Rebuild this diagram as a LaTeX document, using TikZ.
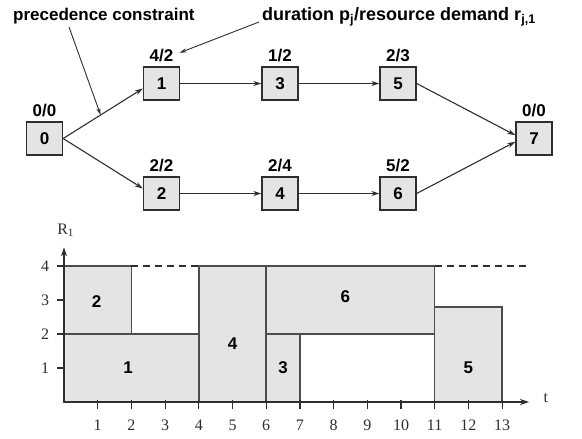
\documentclass[tikz,border=0pt]{standalone}
\usepackage{fontspec}
\setmainfont{Liberation Serif}
\setsansfont{Liberation Sans}
\usetikzlibrary{arrows.meta,positioning}
\definecolor{inkc}{HTML}{2E2E2E}
\definecolor{boxfill}{HTML}{E4E4E4}
\begin{document}
\begin{tikzpicture}[x=1pt,y=-1pt,
  act/.style={draw=inkc, fill=boxfill, line width=1.3pt, minimum width=36pt,
    minimum height=33pt, inner sep=0pt, font=\sffamily\bfseries\fontsize{17}{17}\selectfont},
  lab/.style={inner sep=0pt, font=\sffamily\bfseries\fontsize{17}{17}\selectfont},
  note/.style={inner sep=0pt, anchor=base west, font=\sffamily\bfseries\fontsize{17}{17}\selectfont},
  conn/.style={draw=inkc, line width=1.1pt, -{Stealth[length=8pt,width=5pt]}},
  ptr/.style={draw=inkc, line width=0.9pt, -{Stealth[length=7pt,width=4pt]}},
  blk/.style={draw=inkc!85, fill=boxfill, line width=1.5pt},
  blab/.style={inner sep=0pt, font=\sffamily\bfseries\fontsize{17}{17}\selectfont},
  axis/.style={draw=inkc, line width=1.6pt, -{Stealth[length=9pt,width=6pt]}},
  tick/.style={draw=inkc, line width=1.2pt},
  tlab/.style={inner sep=0pt, font=\rmfamily\fontsize{16}{16}\selectfont, text=inkc},
  limit/.style={draw=inkc, line width=1.3pt, dash pattern=on 7pt off 5pt}
]
\useasboundingbox (0,0) rectangle (582,439);

% ---------- activity-on-node network ----------
\node[act] (n0) at (44.5,138.5) {0};
\node[act] (n1) at (161.5,83.5) {1};
\node[act] (n3) at (280,83.5) {3};
\node[act] (n5) at (398,83.5) {5};
\node[act] (n2) at (161.5,193.5) {2};
\node[act] (n4) at (280,193.5) {4};
\node[act] (n6) at (398,193.5) {6};
\node[act] (n7) at (534,138.5) {7};

% duration / demand labels
\node[lab, above=4pt of n0] (l0) {0/0};
\node[lab, above=4pt of n1] (l1) {4/2};
\node[lab, above=4pt of n3] (l3) {1/2};
\node[lab, above=4pt of n5] (l5) {2/3};
\node[lab, above=4pt of n2] (l2) {2/2};
\node[lab, above=4pt of n4] (l4) {2/4};
\node[lab, above=4pt of n6] (l6) {5/2};
\node[lab, above=4pt of n7] (l7) {0/0};

% precedence arcs
\draw[conn] (n0.east) -- coordinate[pos=0.47] (pc) (n1.195);
\draw[conn] (n0.east) -- (n2.165);
\draw[conn] (n1) -- (n3);
\draw[conn] (n3) -- (n5);
\draw[conn] (n2) -- (n4);
\draw[conn] (n4) -- (n6);
\draw[conn] (n5.east) -- (n7.170);
\draw[conn] (n6.east) -- (n7.190);

% annotations
\node[note] (prec) at (13,20) {precedence constraint};
\node[note, font=\sffamily\bfseries\fontsize{18}{18}\selectfont] (dur) at (262,20)
  {duration p\textsubscript{j}/resource demand r\textsubscript{j,1}};
\draw[ptr] ([xshift=-3pt,yshift=-7pt]prec.base west -| 72,0) -- (pc);
\draw[ptr] ([xshift=-3pt,yshift=-2pt]dur.base west) -- ([xshift=6pt,yshift=3pt]l1.east);

% ---------- resource profile ----------
\begin{scope}[shift={(64,402)}, x=33.7pt, y=34pt]
  \draw[blk] (0,0) rectangle (4,2);
  \draw[blk] (0,2) rectangle (2,4);
  \draw[blk] (4,0) rectangle (6,4);
  \draw[blk] (6,0) rectangle (7,2);
  \draw[blk] (6,2) rectangle (11,4);
  \draw[blk] (11,0) rectangle (13,2.8);
  \node[blab] (b1) at (1.9,1) {1};
  \node[blab] (b2) at (0.97,2.95) {2};
  \node[blab] (b4) at (5,1.73) {4};
  \node[blab] (b3) at (6.5,1) {3};
  \node[blab] (b6) at (8.35,3.1) {6};
  \node[blab] (b5) at (12,1) {5};

  % capacity limit
  \draw[limit] (2,4) -- (4,4);
  \draw[limit] (11,4) -- (13.7,4);

  % axes
  \coordinate (o) at (0,0);
  \coordinate (xe) at (13.8,0);
  \coordinate (ye) at (0,4.55);
  \draw[axis] (o) -- (xe);
  \draw[axis] (o) -- (ye);
  \node[tlab] (tl) at (14.3,0.12) {t};
  \node[tlab] (rl) at (0.05,5.05) {R\textsubscript{1}};
  \foreach \t in {1,...,13} {
    \draw[tick] (\t,0.06) -- (\t,-0.2);
    \node[tlab] (tx\t) at (\t,-0.68) {\t};
  }
  \foreach \r in {1,...,4} {
    \draw[tick] (-0.2,\r) -- (0,\r);
    \node[tlab] (ry\r) at (-0.56,\r) {\r};
  }
\end{scope}
\end{tikzpicture}
\end{document}
